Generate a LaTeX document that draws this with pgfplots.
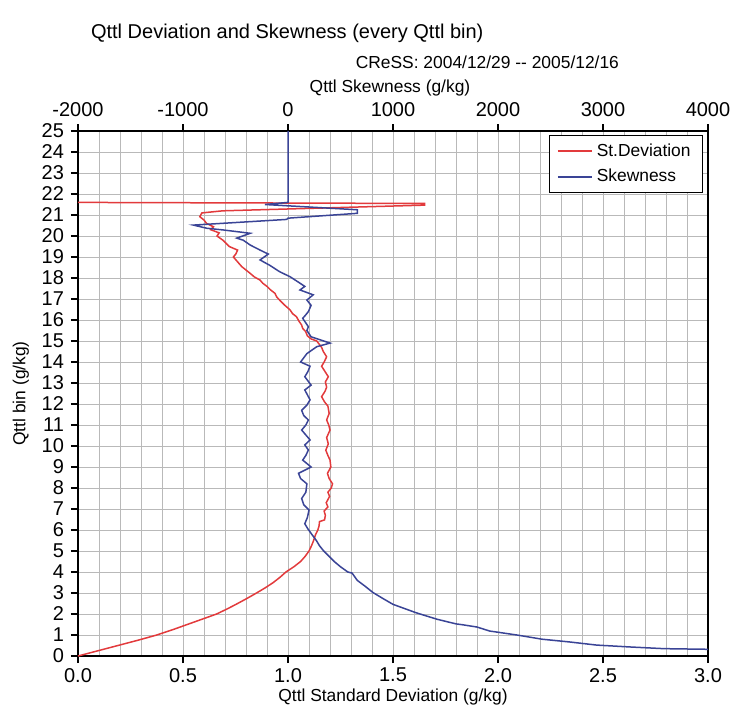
\documentclass[border=0pt]{standalone}
\usepackage{fontspec}
\setmainfont{Liberation Sans}
\usepackage{pgfplots}
\usepackage{pgfplotstable}
\pgfplotsset{compat=1.18}

\definecolor{devred}{RGB}{226,58,60}
\definecolor{skewblue}{RGB}{58,68,150}

% standard deviation of Qttl in each bin: (std dev, bin)
\pgfplotstableread{
sd bin
0.000 0.00
0.095 0.25
0.190 0.50
0.285 0.75
0.375 1.00
0.450 1.25
0.520 1.50
0.590 1.75
0.660 2.00
0.712 2.25
0.760 2.50
0.806 2.75
0.850 3.00
0.892 3.25
0.930 3.50
0.962 3.75
0.990 4.00
1.028 4.25
1.060 4.50
1.082 4.75
1.100 5.00
1.112 5.25
1.122 5.50
1.130 5.75
1.142 6.00
1.148 6.20
1.150 6.40
1.174 6.48
1.178 6.70
1.172 6.90
1.190 7.10
1.182 7.30
1.198 7.60
1.190 7.80
1.206 8.00
1.212 8.20
1.196 8.45
1.188 8.70
1.204 9.00
1.200 9.33
1.190 9.55
1.180 9.80
1.192 10.10
1.184 10.40
1.200 10.76
1.194 11.00
1.184 11.24
1.196 11.55
1.190 11.90
1.174 12.10
1.160 12.35
1.176 12.60
1.184 12.80
1.178 13.05
1.192 13.30
1.176 13.55
1.160 13.80
1.172 14.00
1.184 14.25
1.168 14.50
1.160 14.70
1.137 15.00
1.110 15.10
1.092 15.25
1.084 15.45
1.070 15.60
1.065 15.76
1.052 15.95
1.040 16.16
1.022 16.30
1.010 16.48
0.985 16.70
0.960 16.95
0.946 17.10
0.938 17.27
0.915 17.45
0.900 17.60
0.880 17.75
0.867 17.90
0.840 18.05
0.820 18.22
0.800 18.38
0.780 18.54
0.766 18.70
0.740 19.00
0.752 19.15
0.760 19.33
0.720 19.50
0.705 19.65
0.690 19.80
0.662 20.00
0.672 20.15
0.632 20.30
0.645 20.44
0.612 20.60
0.600 20.76
0.580 20.92
0.590 21.10
0.690 21.20
1.650 21.47
1.650 21.55
0.000 21.60
}\sdtable

% skewness of Qttl in each bin: (skewness, bin)
\pgfplotstableread{
sk bin
4400 0.25
4000 0.32
3580 0.35
3260 0.43
2940 0.52
2680 0.67
2420 0.80
2180 1.00
1920 1.19
1800 1.38
1660 1.49
1600 1.53
1420 1.75
1220 2.06
1000 2.46
900 2.75
810 3.02
740 3.30
660 3.60
610 3.95
570 4.00
500 4.25
440 4.50
390 4.75
340 5.00
300 5.25
270 5.50
220 5.84
190 6.05
160 6.30
185 6.60
200 6.95
150 7.20
130 7.50
170 7.80
180 8.20
120 8.45
100 8.70
220 9.00
140 9.33
170 9.55
194 9.81
160 10.05
210 10.29
130 10.76
170 11.00
194 11.24
150 11.45
130 11.70
180 11.95
210 12.20
160 12.67
220 12.90
160 13.30
190 13.55
210 13.80
120 14.00
150 14.20
180 14.40
274 14.73
400 14.90
220 15.20
180 15.50
194 15.68
140 16.08
170 16.25
194 16.40
220 16.70
180 16.95
240 17.20
114 17.43
160 17.60
100 17.80
20 18.06
-80 18.30
-172 18.60
-266 18.86
-188 19.14
-266 19.33
-360 19.57
-426 19.80
-488 19.90
-360 20.13
-620 20.29
-774 20.37
-900 20.52
-12 20.79
0 20.85
660 21.08
660 21.25
-220 21.50
0 21.60
0 25.00
}\sktable

\pgfplotsset{
  common/.style={
    scale only axis, width=315pt, height=262.5pt,
    ymin=0, ymax=25,
    tick align=outside, major tick length=3.5pt, minor tick length=0pt,
    tick style={black, line width=0.6pt},
    axis line style={black, line width=0.9pt},
    ticklabel style={font=\fontsize{10}{12}\selectfont},
    /pgf/number format/assume math mode=true,
    clip mode=individual,
  },
}

\begin{document}
\begin{tikzpicture}
% bottom axis: standard deviation scale, with the grid
\begin{axis}[common,
    xmin=0, xmax=3,
    xtick={0,0.5,...,3}, xticklabels={0.0,0.5,1.0,1.5,2.0,2.5,3.0},
    minor x tick num=4,
    ytick={0,...,25},
    xtick pos=bottom, ytick pos=left,
    xticklabel style={yshift=1pt},
    grid=both,
    major grid style={gray!55, line width=0.5pt},
    minor grid style={gray!55, line width=0.5pt},
  ]
  \coordinate (bl) at (rel axis cs:0,0);
  \coordinate (bc) at (rel axis cs:0.5,0);
  \coordinate (lc) at (rel axis cs:0,0.5);
  \coordinate (tl) at (rel axis cs:0,1);
  \coordinate (tc) at (rel axis cs:0.5,1);
  \coordinate (tr) at (rel axis cs:1,1);
\end{axis}
% top axis: skewness scale; 1 g/kg of deviation spans 2000 g/kg of skewness
\begin{axis}[common,
    xmin=-2000, xmax=4000,
    xtick={-2000,-1000,...,4000},
    xticklabels={-2000,-1000,0,1000,2000,3000,4000},
    axis x line*=top, axis y line=none,
    legend style={at={(1,1)}, anchor=north east, xshift=-2.5pt, yshift=-2pt,
      draw=black, font=\fontsize{8.7}{10}\selectfont,
      inner xsep=4pt, inner ysep=2pt, row sep=1pt},
    legend cell align=left,
  ]
  \addplot[draw=devred, line width=0.75pt] table[x expr={(\thisrow{sd}-1)*2000}, y=bin] {\sdtable};
  \addlegendentry{St.Deviation}
  \addplot[draw=skewblue, line width=0.75pt] table[x=sk, y=bin] {\sktable};
  \addlegendentry{Skewness}
\end{axis}

\node[anchor=west, font=\fontsize{10}{12}\selectfont] at ([xshift=3pt, yshift=49pt]tl) {Qttl Deviation and Skewness (every Qttl bin)};
\node[anchor=east, font=\fontsize{8.7}{10}\selectfont] at ([xshift=-41pt, yshift=34.5pt]tr) {CReSS: 2004/12/29 -{}- 2005/12/16};
\node[font=\fontsize{8.7}{10}\selectfont] at ([xshift=-1.5pt, yshift=21.5pt]tc) {Qttl Skewness (g/kg)};
\node[font=\fontsize{8.7}{10}\selectfont] at ([yshift=-20.5pt]bc) {Qttl Standard Deviation (g/kg)};
\node[rotate=90, font=\fontsize{8.7}{10}\selectfont] at ([xshift=-28.5pt]lc) {Qttl bin (g/kg)};

\pgfresetboundingbox
\path[use as bounding box] ([xshift=-39pt, yshift=-26.5pt]bl) rectangle ++(366pt,354.5pt);
\end{tikzpicture}
\end{document}
